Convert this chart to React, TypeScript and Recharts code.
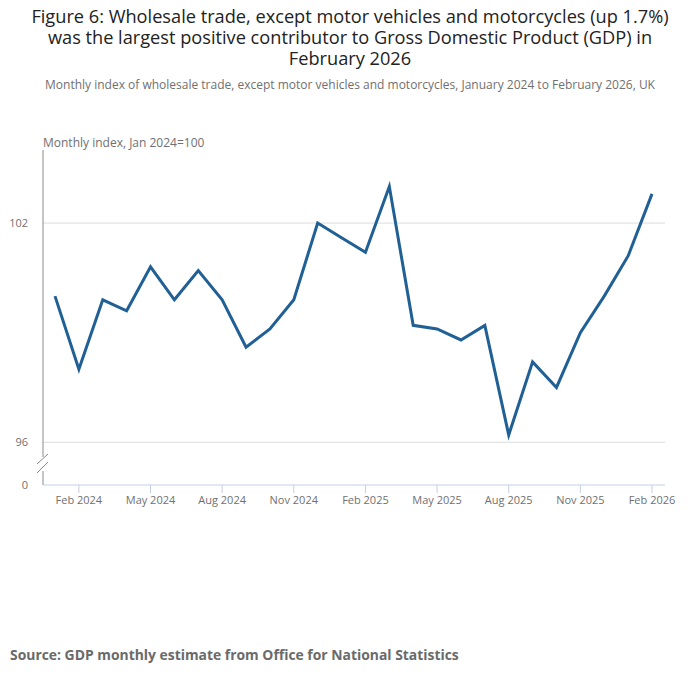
import React from 'react';
import {
  LineChart,
  Line,
  XAxis,
  YAxis,
  ReferenceLine,
} from 'recharts';

// Monthly index of wholesale trade (Jan 2024 = 100)
const months = [
  'Jan 2024', 'Feb 2024', 'Mar 2024', 'Apr 2024', 'May 2024', 'Jun 2024',
  'Jul 2024', 'Aug 2024', 'Sep 2024', 'Oct 2024', 'Nov 2024', 'Dec 2024',
  'Jan 2025', 'Feb 2025', 'Mar 2025', 'Apr 2025', 'May 2025', 'Jun 2025',
  'Jul 2025', 'Aug 2025', 'Sep 2025', 'Oct 2025', 'Nov 2025', 'Dec 2025',
  'Jan 2026', 'Feb 2026',
];

const wholesaleIndex = [
  100.0, 98.0, 99.9, 99.6, 100.8, 99.9, 100.7, 99.9, 98.6, 99.1, 99.9, 102.0,
  101.6, 101.2, 103.0, 99.2, 99.1, 98.8, 99.2, 96.2, 98.2, 97.5, 99.0, 100.0,
  101.1, 102.8,
];

// every third month from Feb 2024
const xTickIdx = [1, 4, 7, 10, 13, 16, 19, 22, 25];

// broken axis: the bottom of the visible range is labelled as 0
const Y_BOTTOM = 94.83;
const Y_TOP = 104;
const yTicks = [Y_BOTTOM, 96, 102];
const gridValues = [96, 102];

const data = months.map((m, i) => ({ idx: i, month: m, value: wholesaleIndex[i] }));

const FONT = '"Open Sans", "Noto Sans", sans-serif';
const ONS_BLUE = '#206095';
const MUTED = '#707070';

export default function App() {
  return (
    <div
      style={{
        position: 'absolute',
        left: 0,
        top: 0,
        width: 700,
        height: 682,
        background: '#fff',
        fontFamily: FONT,
        overflow: 'hidden',
      }}
    >
      <div
        style={{
          position: 'absolute',
          top: 6,
          left: 0,
          width: 700,
          textAlign: 'center',
          fontSize: 18.2,
          lineHeight: '21px',
          color: '#222',
        }}
      >
        Figure 6: Wholesale trade, except motor vehicles and motorcycles (up 1.7%)
        <br />
        was the largest positive contributor to Gross Domestic Product (GDP) in
        <br />
        February 2026
      </div>
      <div
        style={{
          position: 'absolute',
          top: 76,
          left: 0,
          width: 700,
          textAlign: 'center',
          fontSize: 12,
          color: MUTED,
        }}
      >
        Monthly index of wholesale trade, except motor vehicles and motorcycles, January 2024 to February 2026, UK
      </div>
      <div
        style={{
          position: 'absolute',
          top: 134,
          left: 43,
          fontSize: 12,
          color: MUTED,
        }}
      >
        Monthly index, Jan 2024=100
      </div>

      <div style={{ position: 'absolute', left: 0, top: 0 }}>
        <LineChart
          width={700}
          height={682}
          data={data}
          margin={{ top: 150, right: 35, bottom: 167, left: 0 }}
        >
          <XAxis
            type="number"
            dataKey="idx"
            domain={[0, months.length - 1]}
            ticks={xTickIdx}
            tickFormatter={(v: number) => months[v]}
            padding={{ left: 12, right: 13 }}
            stroke="#c5d0e2"
            tickSize={8}
            tickMargin={3}
            tick={{ fill: MUTED, fontSize: 11, fontFamily: FONT }}
            height={30}
          />
          <YAxis
            type="number"
            domain={[Y_BOTTOM, Y_TOP]}
            ticks={yTicks}
            tickFormatter={(v: number) => (v < 95 ? '0' : String(v))}
            width={43}
            stroke="#8a8a8a"
            tickLine={false}
            tickSize={6}
            tickMargin={9}
            tick={{ fill: MUTED, fontSize: 11, fontFamily: FONT }}
            allowDataOverflow
          />
          {gridValues.map((g) => (
            <ReferenceLine key={g} y={g} stroke="#dcdcdc" strokeWidth={1} />
          ))}
          <Line
            type="linear"
            dataKey="value"
            stroke={ONS_BLUE}
            strokeWidth={3}
            dot={false}
            isAnimationActive={false}
          />
        </LineChart>
      </div>

      {/* axis break marks */}
      <svg
        width={30}
        height={30}
        style={{ position: 'absolute', left: 28, top: 450 }}
      >
        <rect x={13} y={7} width={4} height={14} fill="#fff" />
        <line x1={9} y1={14} x2={20} y2={4} stroke="#8a8a8a" strokeWidth={1} />
        <line x1={9} y1={23} x2={20} y2={12} stroke="#8a8a8a" strokeWidth={1} />
      </svg>

      <div
        style={{
          position: 'absolute',
          top: 645,
          left: 10,
          fontSize: 13.9,
          fontWeight: 700,
          color: '#6a6a6a',
        }}
      >
        Source: GDP monthly estimate from Office for National Statistics
      </div>
    </div>
  );
}
